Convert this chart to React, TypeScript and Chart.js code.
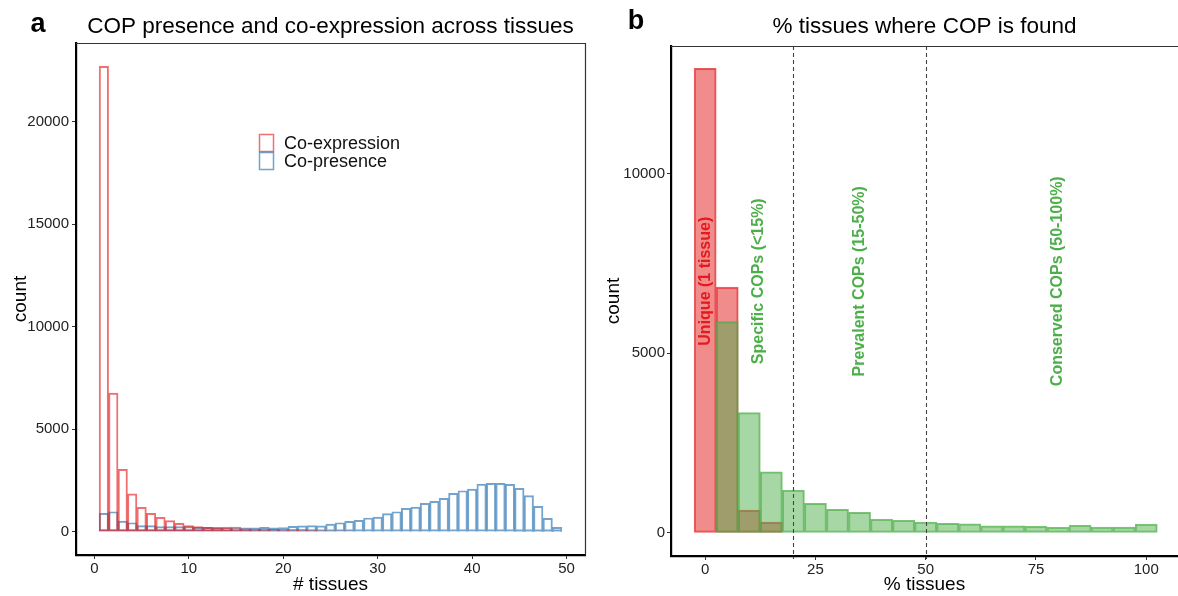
import React, { useEffect, useRef } from "react";
import { Chart, registerables } from "chart.js";

Chart.register(...registerables);

const FONT = "'Liberation Sans', Arial, Helvetica, sans-serif";

// ---------- Panel a data ----------
const tissueBins = [
  1, 2, 3, 4, 5, 6, 7, 8, 9, 10, 11, 12, 13, 14, 15, 16, 17, 18, 19, 20, 21, 22, 23, 24, 25,
  26, 27, 28, 29, 30, 31, 32, 33, 34, 35, 36, 37, 38, 39, 40, 41, 42, 43, 44, 45, 46, 47, 48, 49,
];
const coExpression = [
  22700, 6760, 3040, 1850, 1190, 895, 700, 540, 410, 295, 245, 210, 180, 160, 150, 140, 135, 125,
  115, 110, 105, 100, 90, 60, 45, 40, 38, 35, 33, 32, 30, 30, 28, 27, 26, 25, 25, 24, 24, 23, 23,
  22, 22, 22, 21, 21, 20, 20, 20,
];
const coPresence = [
  895, 975, 520, 440, 295, 295, 245, 245, 245, 245, 210, 210, 210, 230, 230, 195, 195, 210, 195,
  200, 260, 290, 300, 285, 375, 440, 505, 555, 670, 715, 880, 975, 1140, 1205, 1385, 1480, 1625,
  1870, 2000, 2080, 2325, 2360, 2360, 2310, 2115, 1760, 1240, 650, 215,
];
const tissueTicks = [0, 10, 20, 30, 40, 50];
const countTicksA = [0, 5000, 10000, 15000, 20000];

// ---------- Panel b data ----------
const uniqueBins = [0, 5, 10, 15];
const uniqueCounts = [12925, 6836, 632, 298];
const sharedBins = [5, 10, 15, 20, 25, 30, 35, 40, 45, 50, 55, 60, 65, 70, 75, 80, 85, 90, 95, 100];
const sharedCounts = [
  5877, 3343, 1699, 1189, 819, 652, 568, 373, 345, 298, 262, 251, 195, 195, 178, 150, 206, 159,
  159, 242,
];
const pctTicks = [0, 25, 50, 75, 100];
const countTicksB = [0, 5000, 10000];
const thresholds = [20, 50];
const annotationTexts = [
  "Unique (1 tissue)",
  "Specific COPs (<15%)",
  "Prevalent COPs (15-50%)",
  "Conserved COPs (50-100%)",
];
const annotationX = [0, 12, 35, 80];
const annotationY = [7000, 7000, 7000, 7000];
const annotationColors = ["#E41A1C", "#4DAF4A", "#4DAF4A", "#4DAF4A"];

const RED_LINE = "rgba(228,26,28,0.62)";
const BLUE_LINE = "rgba(55,126,184,0.7)";

function axisCommon() {
  return {
    grid: {
      display: true,
      drawOnChartArea: false,
      drawTicks: true,
      offset: false,
      tickLength: 4,
      color: "#333",
      lineWidth: 1,
    },
    border: { display: true, color: "#000", width: 2.2 },
  };
}

function headerPlugin(letter: string, letterX: number, letterY: number, title: string) {
  return {
    id: "header" + letter,
    afterDraw(chart: any) {
      const { ctx, chartArea } = chart;
      ctx.save();
      ctx.fillStyle = "#000";
      ctx.textBaseline = "middle";
      ctx.textAlign = "center";
      ctx.font = `bold 27px ${FONT}`;
      ctx.fillText(letter, letterX, letterY);
      ctx.font = `22.5px ${FONT}`;
      ctx.fillText(title, (chartArea.left + chartArea.right) / 2, 27);
      ctx.restore();
    },
  };
}

const frameA = {
  id: "frameA",
  afterDraw(chart: any) {
    const { ctx, chartArea: a } = chart;
    ctx.save();
    ctx.strokeStyle = "#333";
    ctx.lineWidth = 1.2;
    ctx.beginPath();
    ctx.moveTo(a.left, a.top + 0.5);
    ctx.lineTo(a.right + 0.5, a.top + 0.5);
    ctx.lineTo(a.right + 0.5, a.bottom);
    ctx.stroke();
    ctx.restore();
  },
};

const legendA = {
  id: "legendA",
  afterDraw(chart: any) {
    const { ctx } = chart;
    const items = [
      { label: "Co-expression", color: RED_LINE },
      { label: "Co-presence", color: BLUE_LINE },
    ];
    ctx.save();
    ctx.font = `18px ${FONT}`;
    ctx.textBaseline = "middle";
    ctx.textAlign = "left";
    items.forEach((it, i) => {
      const top = 134 + i * 18;
      ctx.strokeStyle = it.color;
      ctx.lineWidth = 1.5;
      ctx.strokeRect(259.5, top + 0.5, 14, 17);
      ctx.fillStyle = "#111";
      ctx.fillText(it.label, 284, top + 10);
    });
    ctx.restore();
  },
};

const frameB = {
  id: "frameB",
  afterDraw(chart: any) {
    const { ctx, chartArea: a } = chart;
    ctx.save();
    ctx.strokeStyle = "#333";
    ctx.lineWidth = 1.2;
    ctx.beginPath();
    ctx.moveTo(a.left, a.top + 0.5);
    ctx.lineTo(a.right, a.top + 0.5);
    ctx.stroke();
    ctx.restore();
  },
};

const annotB = {
  id: "annotB",
  afterDatasetsDraw(chart: any) {
    const { ctx, chartArea: a, scales } = chart;
    const xs = scales.x;
    const ys = scales.y;
    ctx.save();
    ctx.strokeStyle = "#444";
    ctx.lineWidth = 1.1;
    ctx.setLineDash([4, 3]);
    thresholds.forEach((t) => {
      const px = Math.round(xs.getPixelForValue(t)) + 0.5;
      ctx.beginPath();
      ctx.moveTo(px, a.top);
      ctx.lineTo(px, a.bottom + 3);
      ctx.stroke();
    });
    ctx.setLineDash([]);
    ctx.font = `bold 16px ${FONT}`;
    ctx.textAlign = "center";
    ctx.textBaseline = "middle";
    annotationTexts.forEach((txt, i) => {
      const px = xs.getPixelForValue(annotationX[i]);
      const py = ys.getPixelForValue(annotationY[i]);
      ctx.save();
      ctx.translate(px, py);
      ctx.rotate(-Math.PI / 2);
      ctx.fillStyle = annotationColors[i];
      ctx.fillText(txt, 0, 0);
      ctx.restore();
    });
    ctx.restore();
  },
};

function xTitle(text: string) {
  return {
    display: true,
    text,
    font: { family: FONT, size: 19 },
    color: "#000",
    padding: { top: 0, bottom: 0 },
  };
}

function makeChartA(canvas: HTMLCanvasElement) {
  return new Chart(canvas, {
    type: "bar",
    data: {
      datasets: [
        {
          label: "Co-expression",
          data: tissueBins.map((x, i) => ({ x, y: coExpression[i] })),
          backgroundColor: "rgba(0,0,0,0)",
          borderColor: RED_LINE,
          borderWidth: 1.3,
          borderSkipped: false,
          grouped: false,
          barPercentage: 1,
          categoryPercentage: 1,
        } as any,
        {
          label: "Co-presence",
          data: tissueBins.map((x, i) => ({ x, y: coPresence[i] })),
          backgroundColor: "rgba(0,0,0,0)",
          borderColor: BLUE_LINE,
          borderWidth: 1.3,
          borderSkipped: false,
          grouped: false,
          barPercentage: 1,
          categoryPercentage: 1,
        } as any,
      ],
    },
    options: {
      animation: false,
      responsive: false,
      maintainAspectRatio: false,
      layout: { padding: { top: 43, right: 15, left: 0, bottom: 0 } },
      plugins: { legend: { display: false }, tooltip: { enabled: false } },
      scales: {
        x: {
          type: "linear",
          min: -1.95,
          max: 51.95,
          bounds: "data",
          offset: false,
          afterBuildTicks: (s: any) => {
            s.ticks = tissueTicks.map((v) => ({ value: v }));
          },
          afterFit: (s: any) => {
            s.height = 41;
          },
          ...axisCommon(),
          ticks: {
            font: { family: FONT, size: 15 },
            color: "#222",
            padding: 1,
            maxRotation: 0,
            autoSkip: false,
            callback: (v: any) => String(v),
          },
          title: xTitle("# tissues"),
        } as any,
        y: {
          type: "linear",
          min: -1135,
          max: 23835,
          bounds: "data",
          afterBuildTicks: (s: any) => {
            s.ticks = countTicksA.map((v) => ({ value: v }));
          },
          afterFit: (s: any) => {
            s.width = 76;
          },
          ...axisCommon(),
          ticks: {
            font: { family: FONT, size: 15 },
            color: "#222",
            padding: 3,
            autoSkip: false,
            callback: (v: any) => String(v),
          },
          title: {
            display: true,
            text: "count",
            font: { family: FONT, size: 19 },
            color: "#000",
            padding: { top: 9, bottom: 0 },
          },
        } as any,
      },
    },
    plugins: [frameA, legendA, headerPlugin("a", 38, 25, "COP presence and co-expression across tissues")],
  });
}

function makeChartB(canvas: HTMLCanvasElement) {
  return new Chart(canvas, {
    type: "bar",
    data: {
      datasets: [
        {
          label: "Shared",
          data: sharedBins.map((x, i) => ({ x, y: sharedCounts[i] })),
          backgroundColor: "rgba(77,175,74,0.5)",
          borderColor: "rgba(77,175,74,0.75)",
          borderWidth: 1.3,
          borderSkipped: false,
          grouped: false,
          barPercentage: 1,
          categoryPercentage: 1,
        } as any,
        {
          label: "Unique",
          data: uniqueBins.map((x, i) => ({ x, y: uniqueCounts[i] })),
          backgroundColor: "rgba(228,26,28,0.5)",
          borderColor: "rgba(228,26,28,0.7)",
          borderWidth: 1.3,
          borderSkipped: false,
          grouped: false,
          barPercentage: 1,
          categoryPercentage: 1,
        } as any,
      ],
    },
    options: {
      animation: false,
      responsive: false,
      maintainAspectRatio: false,
      layout: { padding: { top: 46, right: 0, left: 0, bottom: 0 } },
      plugins: { legend: { display: false }, tooltip: { enabled: false } },
      scales: {
        x: {
          type: "linear",
          min: -7.75,
          max: 107.2,
          bounds: "data",
          offset: false,
          afterBuildTicks: (s: any) => {
            s.ticks = pctTicks.map((v) => ({ value: v }));
          },
          afterFit: (s: any) => {
            s.height = 40;
          },
          ...axisCommon(),
          ticks: {
            font: { family: FONT, size: 15 },
            color: "#222",
            padding: 1,
            maxRotation: 0,
            autoSkip: false,
            callback: (v: any) => String(v),
          },
          title: xTitle("% tissues"),
        } as any,
        y: {
          type: "linear",
          min: -645,
          max: 13545,
          bounds: "data",
          afterBuildTicks: (s: any) => {
            s.ticks = countTicksB.map((v) => ({ value: v }));
          },
          afterFit: (s: any) => {
            s.width = 71;
          },
          ...axisCommon(),
          ticks: {
            font: { family: FONT, size: 15 },
            color: "#222",
            padding: 2,
            autoSkip: false,
            callback: (v: any) => String(v),
          },
          title: {
            display: true,
            text: "count",
            font: { family: FONT, size: 19 },
            color: "#000",
            padding: { top: 2, bottom: 0 },
          },
        } as any,
      },
    },
    plugins: [frameB, annotB, headerPlugin("b", 36, 22, "% tissues where COP is found")],
  });
}

export default function App() {
  const refA = useRef<HTMLCanvasElement | null>(null);
  const refB = useRef<HTMLCanvasElement | null>(null);

  useEffect(() => {
    const a = makeChartA(refA.current!);
    const b = makeChartB(refB.current!);
    return () => {
      a.destroy();
      b.destroy();
    };
  }, []);

  return (
    <div
      style={{
        position: "absolute",
        left: 0,
        top: 0,
        width: 1178,
        height: 596,
        background: "#fff",
        overflow: "hidden",
      }}
    >
      <canvas
        ref={refA}
        width={600}
        height={596}
        style={{ position: "absolute", left: 0, top: 0, width: 600, height: 596 }}
      />
      <canvas
        ref={refB}
        width={578}
        height={596}
        style={{ position: "absolute", left: 600, top: 0, width: 578, height: 596 }}
      />
    </div>
  );
}
